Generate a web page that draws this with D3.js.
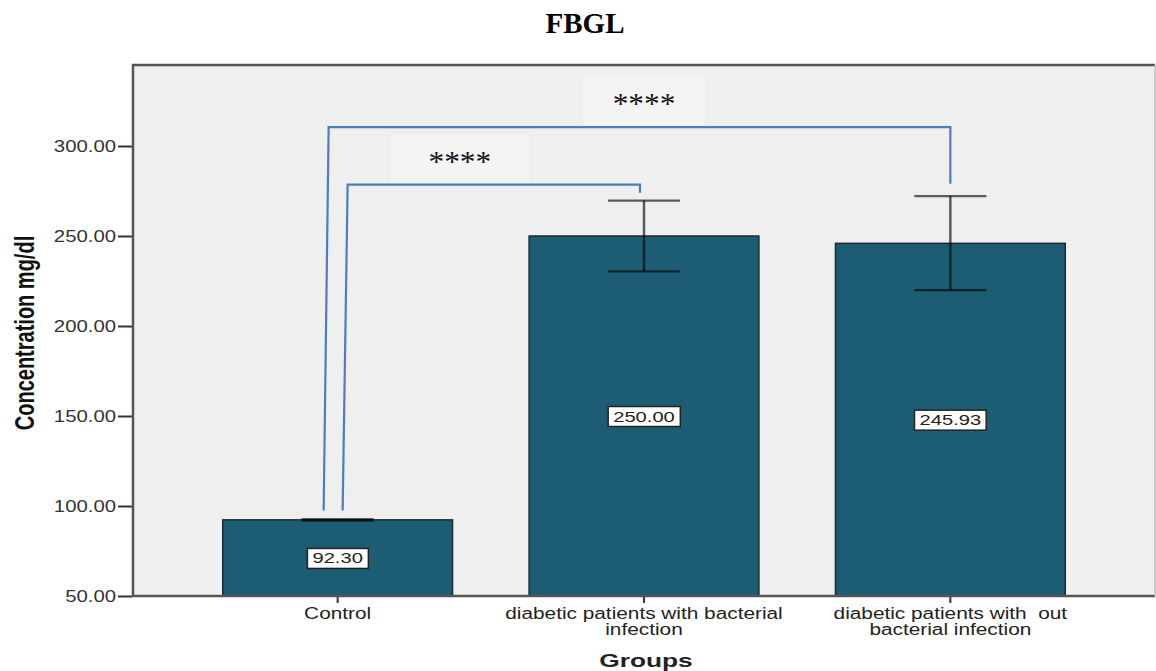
<!DOCTYPE html>
<html>
<head>
<meta charset="utf-8">
<script src="https://cdn.jsdelivr.net/npm/d3@7"></script>
<style>
  body { margin: 0; background: #fff; }
  svg { display: block; }
  text { white-space: pre; }
</style>
</head>
<body>
<svg id="chart" width="1156" height="671"></svg>
<script>
// Group names (line breaks mark where the axis label wraps)
const categories = [
  "Control",
  "diabetic patients with bacterial\ninfection",
  "diabetic patients with  out\nbacterial infection"
];
// Mean fasting blood glucose per group (mg/dl)
const means = [92.30, 250.00, 245.93];
// Error bar extents (mg/dl)
const errLow = [91.9, 230.3, 219.9];
const errHigh = [92.7, 269.7, 272.1];
// Y axis ticks
const yTicks = [50, 100, 150, 200, 250, 300];
// Pairwise significance brackets: heights in mg/dl
const comparisons = [
  { from: 0, to: 2, level: 310.5, leftEnd: 97.5, rightEnd: 279, label: "****" },
  { from: 0, to: 1, level: 278.5, leftEnd: 97.5, rightEnd: 274, label: "****" }
];

const svg = d3.select("#chart");
const plot = { left: 133, right: 1155, top: 65, bottom: 596 };
const SX = 1.3; // horizontal stretch applied to the sans-serif text

const x = d3.scaleBand()
  .domain(d3.range(categories.length))
  .range([plot.left, plot.right])
  .paddingInner(0.25)
  .paddingOuter(0.293);
const y = d3.scaleLinear().domain([50, 345]).range([plot.bottom, plot.top]);

const sans = "'Liberation Sans', Arial, sans-serif";
const serif = "'Liberation Serif', 'Times New Roman', serif";

function stretch(sel, k) {
  sel.each(function () {
    const w = this.getComputedTextLength();
    this.setAttribute("textLength", w * k);
    this.setAttribute("lengthAdjust", "spacingAndGlyphs");
  });
}

// Plot background
svg.append("rect")
  .attr("x", plot.left).attr("y", plot.top)
  .attr("width", plot.right - plot.left).attr("height", plot.bottom - plot.top)
  .attr("fill", "#efefef");

// Title
svg.append("text")
  .attr("x", 585).attr("y", 33)
  .attr("text-anchor", "middle")
  .style("font-family", serif).style("font-weight", "bold").style("font-size", "29px")
  .attr("fill", "#000")
  .text("FBGL");

// Bars
const cx = i => x(i) + x.bandwidth() / 2;
svg.append("g").selectAll("rect")
  .data(means)
  .join("rect")
  .attr("x", (d, i) => x(i))
  .attr("y", d => y(d))
  .attr("width", x.bandwidth())
  .attr("height", d => y(50) - y(d))
  .attr("fill", "#1d5d74")
  .attr("stroke", "#1a2a30")
  .attr("stroke-width", 1.5);

// Error bars
const eb = svg.append("g").attr("stroke", "#000").attr("stroke-opacity", 0.62);
means.forEach((m, i) => {
  const c = cx(i);
  eb.append("line").attr("x1", c).attr("x2", c)
    .attr("y1", y(errHigh[i])).attr("y2", y(errLow[i])).attr("stroke-width", 2.5);
  [errHigh[i], errLow[i]].forEach(v => {
    eb.append("line").attr("x1", c - 36).attr("x2", c + 36)
      .attr("y1", y(v)).attr("y2", y(v)).attr("stroke-width", 2.2);
  });
});

// Value labels in boxed tags at mid-height of each bar
const lbl = svg.append("g");
means.forEach((m, i) => {
  const g = lbl.append("g");
  const t = g.append("text")
    .attr("x", cx(i)).attr("y", y((m + 50) / 2) + 5.5)
    .attr("text-anchor", "middle")
    .style("font-family", sans).style("font-size", "15.5px")
    .attr("fill", "#222")
    .text(d3.format(".2f")(m));
  stretch(t, SX);
  const bb = t.node().getBBox();
  g.insert("rect", "text")
    .attr("x", bb.x - 5).attr("y", bb.y - 1)
    .attr("width", bb.width + 10).attr("height", bb.height + 3)
    .attr("fill", "#fff").attr("stroke", "#222").attr("stroke-width", 1.5);
});

// Y axis
const yAxis = svg.append("g")
  .attr("transform", `translate(${plot.left - 1},0)`)
  .call(d3.axisLeft(y).tickValues(yTicks).tickFormat(d3.format(".2f")).tickSize(14).tickPadding(2));
yAxis.select(".domain").remove();
yAxis.selectAll(".tick line").attr("stroke", "#333").attr("stroke-width", 2);
yAxis.selectAll(".tick text")
  .style("font-family", sans).style("font-size", "16px").attr("fill", "#333")
  .attr("dy", "0.36em");
stretch(yAxis.selectAll(".tick text"), 1.27);

// X axis ticks and wrapped category labels
const xg = svg.append("g");
categories.forEach((c, i) => {
  xg.append("line").attr("x1", cx(i)).attr("x2", cx(i))
    .attr("y1", plot.bottom).attr("y2", plot.bottom + 7)
    .attr("stroke", "#333").attr("stroke-width", 2);
  c.split("\n").forEach((line, j) => {
    const t = xg.append("text")
      .attr("x", cx(i)).attr("y", 619 + j * 15.5)
      .attr("text-anchor", "middle")
      .style("font-family", sans).style("font-size", "16px")
      .attr("fill", "#222")
      .text(line);
    stretch(t, SX);
  });
});

// Plot frame
svg.append("path")
  .attr("d", `M${plot.right},${plot.top}H${plot.left}V${plot.bottom}H${plot.right}`)
  .attr("fill", "none").attr("stroke", "#555").attr("stroke-width", 2.5);
svg.append("line")
  .attr("x1", plot.right).attr("x2", plot.right)
  .attr("y1", plot.top).attr("y2", plot.bottom)
  .attr("stroke", "#bbb").attr("stroke-width", 1.5);

// Axis titles
svg.append("g").attr("transform", `translate(34,333) scale(1.38,1) rotate(-90)`)
  .append("text")
  .attr("text-anchor", "middle")
  .style("font-family", sans).style("font-weight", "bold").style("font-size", "20px")
  .attr("fill", "#111")
  .text("Concentration mg/dl");

const gx = svg.append("text")
  .attr("x", 646).attr("y", 667)
  .attr("text-anchor", "middle")
  .style("font-family", sans).style("font-weight", "bold").style("font-size", "18.5px")
  .attr("fill", "#222")
  .text("Groups");
stretch(gx, 1.42);

// Significance brackets
const br = svg.append("g");
const starOffset = [0, -31];
const backdropWidth = [122, 138];
const leftShift = [-9, 10];
const rightShift = [0, -4];
comparisons.forEach((cmp, k) => {
  const xl = cx(cmp.from) + leftShift[k];
  const xr = cx(cmp.to) + rightShift[k];
  const mid = (cx(cmp.from) + cx(cmp.to)) / 2 + starOffset[k];
  const ly = y(cmp.level);
  // faint label backdrop
  br.append("rect")
    .attr("x", mid - backdropWidth[k] / 2).attr("y", ly - 50)
    .attr("width", backdropWidth[k]).attr("height", 49)
    .attr("fill", "#f4f4f4");
  br.append("path")
    .attr("d", `M${xl - 5},${y(cmp.leftEnd)}L${xl},${ly}H${xr}V${y(cmp.rightEnd)}`)
    .attr("fill", "none").attr("stroke", "#4a7ec0").attr("stroke-width", 2.2);
  const t = br.append("text")
    .attr("x", mid).attr("y", ly - 14)
    .attr("text-anchor", "middle")
    .style("font-family", serif).style("font-size", "29px")
    .attr("fill", "#111")
    .text(cmp.label);
  stretch(t, 1.08);
});
</script>
</body>
</html>
